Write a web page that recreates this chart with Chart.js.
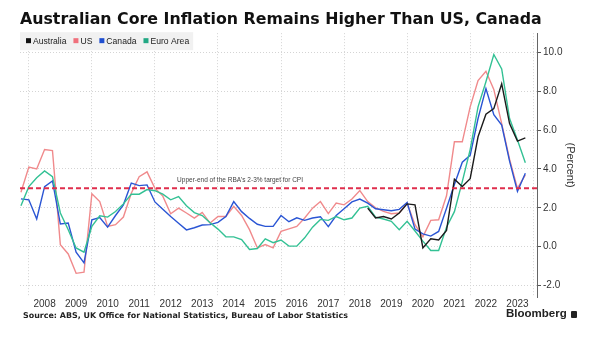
<!DOCTYPE html>
<html>
<head>
<meta charset="utf-8">
<script src="https://cdn.jsdelivr.net/npm/chart.js@4.4.0/dist/chart.umd.min.js"></script>
<style>
  body { margin: 0; background: #fff; }
  #wrap { position: relative; width: 599px; height: 342px; }
  #source { position: absolute; left: 23px; top: 311px; font: bold 7.95px "DejaVu Sans", Verdana, sans-serif; color: #222; }
  #brand { position: absolute; left: 506px; top: 307px; font: bold 11.5px "Liberation Sans", Arial, sans-serif; color: #222; }
  #brand span { display: inline-block; width: 6px; height: 7px; background: #222; border-radius: 1px; margin-left: 4px; vertical-align: -1px; }
</style>
</head>
<body>
<div id="wrap">
  <canvas id="myChart" width="599" height="342"></canvas>
  <div id="source">Source: ABS, UK Office for National Statistics, Bureau of Labor Statistics</div>
  <div id="brand">Bloomberg<span></span></div>
</div>
<script>
// quarter-end observations, Sep 2007 .. Sep 2023
const quarters = [];
for (let i = 0; i < 65; i++) {
    const m = 8 + 3 * i;
    quarters.push(2007 + Math.floor(m / 12) + ((m % 12) + 1) / 12);
}

const us = [2.8, 4.1, 4.0, 5.0, 4.95, 0.1, -0.38, -1.38, -1.32, 2.72,
    2.32, 1.04, 1.13, 1.52, 2.75, 3.6, 3.85, 3.0, 2.6, 1.69,
    1.98, 1.73, 1.47, 1.76, 1.21, 1.55, 1.55, 2.07, 1.6, 0.87,
    -0.07, 0.1, -0.07, 0.78, 0.91, 1.04, 1.47, 1.98, 2.32, 1.7,
    2.24, 2.15, 2.45, 2.89, 2.32, 2.0, 1.81, 1.69, 1.73, 2.24,
    1.13, 0.5, 1.35, 1.38, 2.62, 5.4, 5.4, 7.2, 8.56, 9.04,
    8.1, 6.34, 4.5, 3.0, 3.7];

const canada = [2.46, 2.41, 1.42, 3.09, 3.38, 1.16, 1.21, -0.29, -0.84, 1.38,
    1.5, 1.0, 1.6, 2.15, 3.27, 3.14, 3.18, 2.3, 1.92, 1.55,
    1.2, 0.86, 0.97, 1.11, 1.13, 1.25, 1.55, 2.32, 1.8, 1.45,
    1.15, 1.04, 1.04, 1.6, 1.28, 1.48, 1.35, 1.47, 1.54, 1.03,
    1.6, 1.95, 2.3, 2.45, 2.24, 1.95, 1.9, 1.85, 1.92, 2.27,
    0.9, 0.65, 0.54, 0.78, 1.98, 3.2, 4.35, 4.7, 6.6, 8.14,
    6.8, 6.26, 4.4, 2.84, 3.78];

const euroArea = [2.1, 3.09, 3.55, 3.9, 3.6, 1.73, 0.87, -0.07, -0.29, 1.04,
    1.59, 1.52, 1.81, 2.2, 2.7, 2.7, 2.94, 2.88, 2.7, 2.41,
    2.58, 2.1, 1.75, 1.6, 1.23, 0.9, 0.5, 0.5, 0.36, -0.15,
    -0.1, 0.4, 0.2, 0.34, 0.02, 0.02, 0.45, 1.0, 1.4, 1.35,
    1.55, 1.38, 1.47, 1.98, 2.07, 1.52, 1.42, 1.3, 0.87, 1.3,
    0.8, 0.28, -0.2, -0.2, 1.0, 1.8, 3.35, 5.0, 7.2, 8.5,
    9.9, 9.16, 6.6, 5.49, 4.32];

// Australia series only starts in Sep 2018 (quarter index 44)
const australiaStart = 44;
const australia = [1.98, 1.47, 1.55, 1.42, 1.73, 2.2, 2.15, -0.07, 0.4, 0.34,
    0.83, 3.47, 3.1, 3.5, 5.66, 6.82, 7.11, 8.39, 6.34, 5.44, 5.6];

const targetRate = 3;
const targetNote = "Upper-end of the RBA's 2-3% target for CPI";
const yearLabels = [2008, 2009, 2010, 2011, 2012, 2013, 2014, 2015, 2016, 2017, 2018, 2019, 2020, 2021, 2022, 2023];
const yTicks = [-2, 0, 2, 4, 6, 8, 10];

const toPoints = (vals, start = 0) => vals.map((v, i) => ({ x: quarters[start + i], y: v }));

const legendBox = {
    id: 'legendBox',
    beforeDatasetsDraw(chart) {
        const { ctx, chartArea } = chart;
        const items = chart.data.datasets.filter(d => d.inLegend);
        ctx.save();
        ctx.font = '8.6px "Liberation Sans", Arial, sans-serif';
        let w = 6;
        items.forEach(d => { w += 7 + ctx.measureText(d.label).width + 7; });
        ctx.fillStyle = '#f1f1f1';
        ctx.fillRect(chartArea.left, chartArea.top - 1, w - 3, 18);
        let x = chartArea.left + 6;
        const cy = chartArea.top + 8;
        ctx.textBaseline = 'middle';
        items.forEach(d => {
            ctx.fillStyle = d.legendColor;
            ctx.fillRect(x, cy - 3, 5, 5);
            ctx.fillStyle = '#222';
            ctx.fillText(d.label, x + 7, cy);
            x += 7 + ctx.measureText(d.label).width + 7;
        });
        ctx.restore();
    },
    afterDatasetsDraw(chart) {
        const { ctx, scales } = chart;
        ctx.save();
        ctx.font = '6.5px "Liberation Sans", Arial, sans-serif';
        ctx.fillStyle = '#444';
        ctx.textAlign = 'center';
        ctx.textBaseline = 'bottom';
        ctx.fillText(targetNote, scales.x.getPixelForValue(2014.7), scales.y.getPixelForValue(targetRate) - 5);
        ctx.restore();
    }
};

const ctx = document.getElementById('myChart').getContext('2d');

const lineStyle = { borderWidth: 1.4, pointRadius: 0, tension: 0, fill: false };

new Chart(ctx, {
    type: 'line',
    data: {
        datasets: [
            { label: 'Australia', data: toPoints(australia, australiaStart), borderColor: '#1c1c1c', legendColor: '#111', inLegend: true, order: 1, ...lineStyle },
            { label: 'US', data: toPoints(us), borderColor: '#f08a8c', legendColor: '#f0707c', inLegend: true, order: 4, ...lineStyle },
            { label: 'Canada', data: toPoints(canada), borderColor: '#2a55d4', legendColor: '#1f4fd0', inLegend: true, order: 3, ...lineStyle },
            { label: 'Euro Area', data: toPoints(euroArea), borderColor: '#33c194', legendColor: '#22a884', inLegend: true, order: 2, ...lineStyle },
            { label: 'target', data: [{ x: 2007.72, y: targetRate }, { x: 2024.12, y: targetRate }], borderColor: '#df2e4c', borderWidth: 2, borderDash: [5, 3], pointRadius: 0, order: 0 }
        ]
    },
    options: {
        responsive: false,
        animation: false,
        layout: { padding: { left: 20, right: 0, top: 0, bottom: 0 } },
        plugins: {
            legend: { display: false },
            tooltip: { enabled: false },
            title: {
                display: true,
                text: 'Australian Core Inflation Remains Higher Than US, Canada',
                align: 'start',
                color: '#111',
                font: { family: '"DejaVu Sans", Verdana, sans-serif', size: 15.8, weight: 'bold', lineHeight: 1.15 },
                padding: { top: 11, bottom: 4 }
            }
        },
        scales: {
            x: {
                type: 'linear',
                min: 2007.72,
                max: 2024.12,
                afterBuildTicks: scale => {
                    const t = [];
                    for (let y = 2008; y <= 2024; y += 2) t.push({ value: y });
                    yearLabels.forEach(y => t.push({ value: y + 0.5 }));
                    scale.ticks = t.sort((a, b) => a.value - b.value);
                },
                afterFit: scale => { scale.height = 45; },
                ticks: {
                    autoSkip: false,
                    maxRotation: 0,
                    padding: 1,
                    color: '#333',
                    font: { family: '"Liberation Sans", Arial, sans-serif', size: 10 },
                    callback: v => (v % 1 === 0.5 ? String(Math.floor(v)) : '')
                },
                grid: {
                    drawTicks: false,
                    color: c => (c.tick && Number.isInteger(c.tick.value) ? '#d4d4d4' : 'rgba(0,0,0,0)'),
                    lineWidth: 1
                },
                border: { display: false, dash: [1, 2] }
            },
            y: {
                position: 'right',
                min: -2.6,
                max: 11,
                afterBuildTicks: scale => { scale.ticks = yTicks.map(v => ({ value: v })); },
                afterFit: scale => { scale.width = 62; },
                ticks: {
                    padding: 2,
                    color: '#333',
                    font: { family: '"Liberation Sans", Arial, sans-serif', size: 10 },
                    callback: v => v.toFixed(1)
                },
                grid: {
                    color: '#d4d4d4',
                    tickLength: 4,
                    tickColor: '#555',
                    tickBorderDash: []
                },
                border: { display: true, color: '#666', width: 1, dash: [1, 2] },
                title: {
                    display: true,
                    text: '(Percent)',
                    color: '#333',
                    font: { family: '"Liberation Sans", Arial, sans-serif', size: 11 },
                    padding: { top: 22, bottom: 0 }
                }
            }
        }
    },
    plugins: [legendBox]
});
</script>
</body>
</html>
